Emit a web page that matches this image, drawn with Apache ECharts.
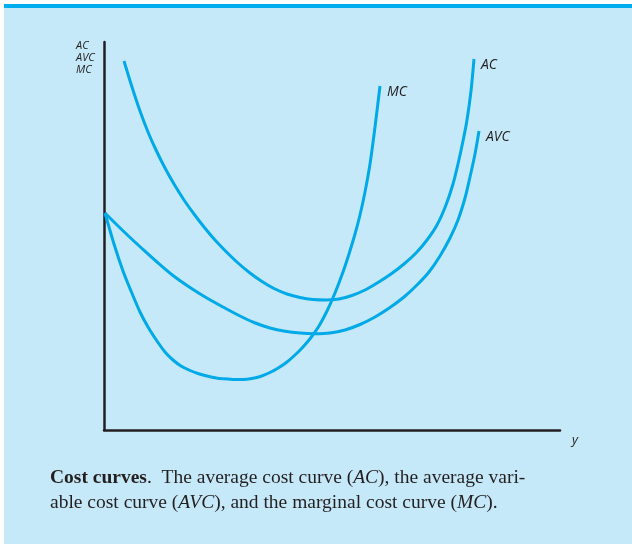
<!DOCTYPE html>
<html><head><meta charset="utf-8">
<script src="https://cdn.jsdelivr.net/npm/echarts@6/dist/echarts.min.js"></script>
<style>html,body{margin:0;padding:0;background:#fff}#c{width:632px;height:544px}</style>
</head><body><div id="c"></div>
<script>
// Data (x: output y, 0..456 ; cost: 0..388)
const mcX  = [1, 10, 19, 27, 36, 44, 53, 61, 69, 77, 86, 94, 103, 111, 119, 129, 139, 148, 157, 166, 175, 183, 191, 199, 207, 215, 223, 231, 239, 245, 251, 256, 261, 266, 271, 276];
const mcY  = [217, 186, 159, 139, 118, 103, 89, 78, 70, 64, 59.5, 56.5, 54, 52.3, 51.2, 50.6, 50.5, 51.6, 53.8, 57.5, 62.5, 68, 75, 83, 92.5, 104, 119, 137, 158, 176, 196, 215, 238, 266, 303, 344];
const avcX = [1, 12, 25, 38, 53, 69, 86, 102, 119, 135, 150, 166, 181, 196, 211, 226, 241, 256, 271, 286, 300, 313, 325, 336, 346, 354, 361, 366, 371, 375];
const avcY = [217, 206, 193.5, 181.5, 168, 154.5, 142.5, 132.5, 123, 114.5, 107.5, 102, 98.7, 96.9, 96.3, 97, 100, 105.5, 113, 122.5, 133, 145, 158, 174, 192, 210, 232, 253, 276, 299];
const acX  = [20, 28, 36, 44, 52, 61, 70, 80, 90, 100, 111, 122, 134, 146, 158, 170, 183, 196, 209, 222, 235, 248, 261, 274, 287, 300, 312, 323, 333, 342, 349, 354, 359, 363, 367, 370];
const acY  = [369, 343, 319, 298, 280, 262, 246, 230, 216, 203, 190, 178.5, 167, 157, 148.5, 141.5, 136, 132.5, 130.5, 130, 131, 134.5, 140, 147.5, 156, 166, 177, 190, 205, 225, 246, 266, 289, 310, 339, 371];
const names = ['MC', 'AVC', 'AC'];
const yAxisLabel = ['AC', 'AVC', 'MC'];
const xAxisLabel = 'y';

function pts(xs, ys) { return xs.map((x, i) => [x, ys[i]]); }
const lineColor = '#00a9e8';
const chart = echarts.init(document.getElementById('c'), null, {renderer: 'canvas'});
const labelStyle = {show: true, formatter: '{a}', fontFamily: 'Open Sans', fontStyle: 'italic', fontSize: 14, color: '#231f20', offset: [-1, 6]};
function ser(i, xs, ys) {
  return {name: names[i], type: 'line', data: pts(xs, ys), smooth: 0.3, showSymbol: false,
    lineStyle: {color: lineColor, width: 3}, endLabel: labelStyle, z: 3};
}
chart.setOption({
  backgroundColor: '#ffffff',
  animation: false,
  grid: {left: 104, right: 72, top: 42, bottom: 114},
  xAxis: {type: 'value', min: 0, max: 456, axisLine: {lineStyle: {color: '#231f20', width: 2.5}},
    axisTick: {show: false}, axisLabel: {show: false}, splitLine: {show: false}},
  yAxis: {type: 'value', min: 0, max: 388, axisLine: {show: true, lineStyle: {color: '#231f20', width: 2.5}},
    axisTick: {show: false}, axisLabel: {show: false}, splitLine: {show: false}},
  series: [ser(0, mcX, mcY), ser(1, avcX, avcY), ser(2, acX, acY)],
  graphic: [
    {type: 'rect', z: -10, silent: true, shape: {x: 4, y: 8, width: 628, height: 536}, style: {fill: '#c6e9f9'}},
    {type: 'rect', z: -9, silent: true, shape: {x: 4, y: 4, width: 628, height: 4}, style: {fill: '#00aeef'}},
    {type: 'text', left: 76, top: 40, z: 5, style: {text: yAxisLabel.join('\n'), fontFamily: 'Open Sans', fontStyle: 'italic', fontSize: 11, lineHeight: 12, fill: '#231f20'}},
    {type: 'text', left: 572, top: 434, z: 5, style: {text: xAxisLabel, fontFamily: 'Open Sans', fontStyle: 'italic', fontSize: 13, fill: '#231f20'}},
    {type: 'text', left: 50, top: 465, z: 5, style: {
      text: '{b|Cost curves}.  The average cost curve ({i|AC}), the average vari-\nable cost curve ({i|AVC}), and the marginal cost curve ({i|MC}).',
      fontFamily: 'Liberation Serif', fontSize: 19.5, lineHeight: 25, fill: '#231f20',
      rich: {b: {fontWeight: 'bold', fontFamily: 'Liberation Serif', fontSize: 19.5, fill: '#231f20'},
             i: {fontStyle: 'italic', fontFamily: 'Liberation Serif', fontSize: 19.5, fill: '#231f20'}}
    }}
  ]
});
</script></body></html>
